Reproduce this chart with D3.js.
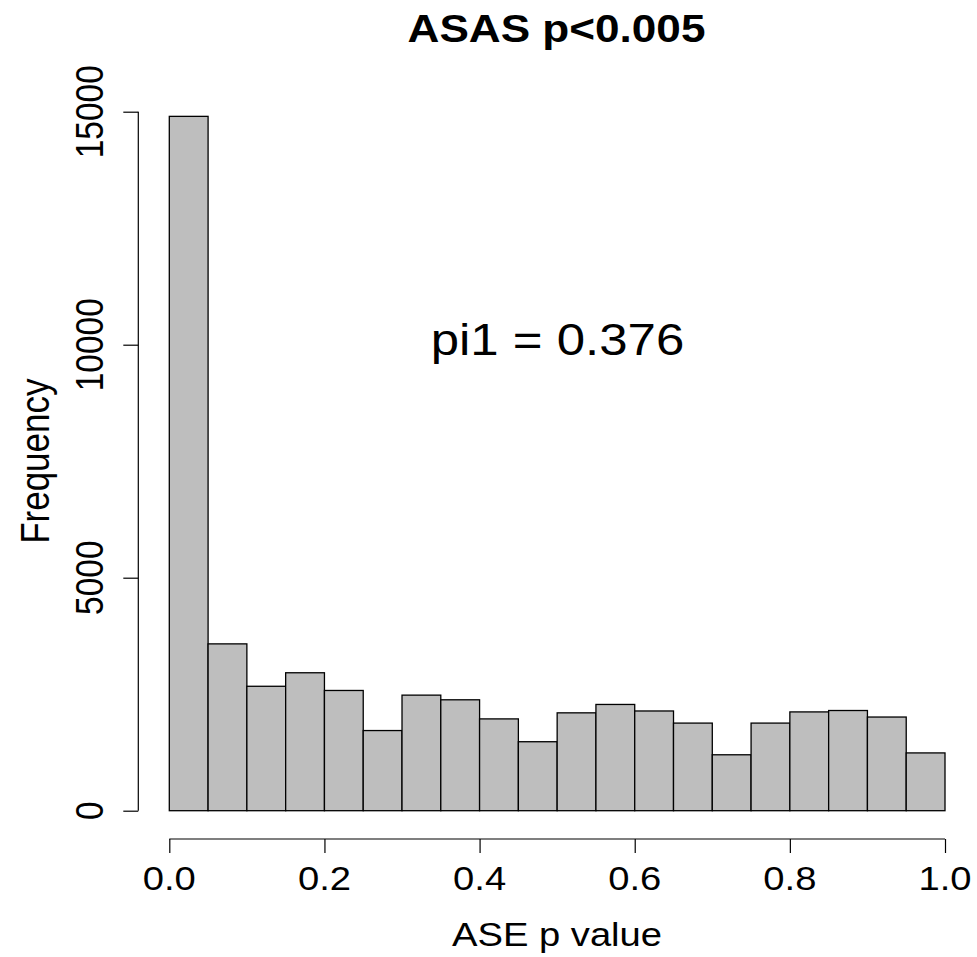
<!DOCTYPE html>
<html>
<head>
<meta charset="utf-8">
<script src="https://cdn.jsdelivr.net/npm/d3@7"></script>
<style>
  body { margin: 0; background: #fff; }
  text { font-family: "Liberation Sans", Arial, Helvetica, sans-serif; fill: #000; }
</style>
</head>
<body>
<div id="chart"></div>
<script>
// histogram of ASE p values
var binEdges = [0.00, 0.05, 0.10, 0.15, 0.20, 0.25, 0.30, 0.35, 0.40, 0.45, 0.50,
                0.55, 0.60, 0.65, 0.70, 0.75, 0.80, 0.85, 0.90, 0.95, 1.00];
var counts = [14900, 3580, 2670, 2960, 2580, 1720, 2480, 2380, 1970, 1480,
              2100, 2280, 2140, 1880, 1200, 1880, 2120, 2150, 2010, 1240];
var xTicks = [0, 0.2, 0.4, 0.6, 0.8, 1.0];
var yTicks = [0, 5000, 10000, 15000];
var title = "ASAS p<0.005";
var xLabel = "ASE p value";
var yLabel = "Frequency";
var note = "pi1 = 0.376";

var width = 977,
    height = 957;

// the source image is a bit wider than tall in its glyphs
var stretch = 1.14;

var x = d3.scaleLinear().domain([0, 1]).range([169.3, 945]);
var y = d3.scaleLinear().domain([0, 15000]).range([810.7, 111.7]);

var svg = d3.select("#chart")
  .append("svg")
    .attr("width", width)
    .attr("height", height);

svg.append("rect")
    .attr("width", width)
    .attr("height", height)
    .attr("fill", "#fff");

var bins = counts.map(function(c, i) {
    return {x0: binEdges[i], x1: binEdges[i + 1], n: c};
});

svg.selectAll("rect.bar")
  .data(bins)
  .enter()
  .append("rect")
    .attr("class", "bar")
    .attr("x", function(d) { return x(d.x0); })
    .attr("y", function(d) { return y(d.n); })
    .attr("width", function(d) { return x(d.x1) - x(d.x0); })
    .attr("height", function(d) { return y(0) - y(d.n); })
    .attr("fill", "#bebebe")
    .attr("stroke", "#000")
    .style("stroke-width", "1.3px");

// x axis
var xAxis = svg.append("g")
    .attr("transform", "translate(0,839)")
    .call(d3.axisBottom(x).tickValues(xTicks).tickSize(14).tickFormat(""));
xAxis.select(".domain").attr("d", "M" + x(0) + ",0H" + x(1));
xAxis.selectAll("line, path").attr("stroke", "#000").style("stroke-width", "1.2px");

svg.selectAll("g.xlab")
  .data(xTicks)
  .enter()
  .append("g")
    .attr("class", "xlab")
    .attr("transform", function(d) { return "translate(" + x(d) + ",890) scale(" + stretch + ",1)"; })
  .append("text")
    .attr("text-anchor", "middle")
    .style("font-size", "33.5px")
    .text(function(d) { return d3.format(".1f")(d); });

// y axis
var yAxis = svg.append("g")
    .attr("transform", "translate(138.3,0)")
    .call(d3.axisLeft(y).tickValues(yTicks).tickSize(15).tickFormat(""));
yAxis.select(".domain").attr("d", "M0," + y(0) + "V" + y(15000));
yAxis.selectAll("line, path").attr("stroke", "#000").style("stroke-width", "1.2px");

svg.selectAll("g.ylab")
  .data(yTicks)
  .enter()
  .append("g")
    .attr("class", "ylab")
    .attr("transform", function(d) { return "translate(103.3," + y(d) + ") scale(" + stretch + ",1) rotate(-90)"; })
  .append("text")
    .attr("text-anchor", "middle")
    .style("font-size", "33.5px")
    .text(function(d) { return d; });

// titles
svg.append("g")
    .attr("transform", "translate(556.5,42) scale(" + stretch + ",1)")
  .append("text")
    .attr("text-anchor", "middle")
    .style("font-size", "38.7px")
    .style("font-weight", "bold")
    .text(title);

svg.append("g")
    .attr("transform", "translate(557,946) scale(" + stretch + ",1)")
  .append("text")
    .attr("text-anchor", "middle")
    .style("font-size", "33.5px")
    .text(xLabel);

svg.append("g")
    .attr("transform", "translate(49," + y(7500) + ") scale(" + stretch + ",1) rotate(-90)")
  .append("text")
    .attr("text-anchor", "middle")
    .style("font-size", "35px")
    .text(yLabel);

svg.append("g")
    .attr("transform", "translate(557.5,355) scale(" + stretch + ",1)")
  .append("text")
    .attr("text-anchor", "middle")
    .style("font-size", "44.7px")
    .text(note);
</script>
</body>
</html>
